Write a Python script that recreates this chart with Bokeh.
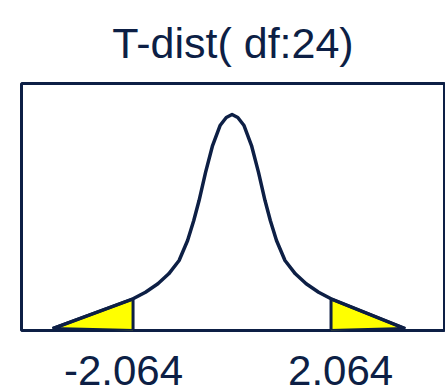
from bokeh.plotting import figure
from bokeh.models import Range1d, FixedTicker
from bokeh.embed import file_html
from bokeh.resources import INLINE

# Curve points (t value, density)
curve_x = [-3.74, -2.064, -1.805, -1.546, -1.32, -1.104, -0.927, -0.798, -0.6875, -0.552, -0.406, -0.25, -0.12, 0.0,
           0.12, 0.25, 0.406, 0.552, 0.6875, 0.798, 0.927, 1.104, 1.32, 1.546, 1.805, 2.064, 3.61]
curve_y = [0.0036, 0.0577, 0.0698, 0.0851, 0.1033, 0.1275, 0.164, 0.2004, 0.2368, 0.288, 0.337, 0.3734, 0.388, 0.3934,
           0.388, 0.3734, 0.337, 0.288, 0.2368, 0.2004, 0.164, 0.1275, 0.1033, 0.0851, 0.0698, 0.0577, 0.0036]

crit = 2.064
crit_density = 0.0577
left_tail_x = [-3.74, -crit, -crit]
left_tail_y = [0.0036, crit_density, 0.0]
right_tail_x = [crit, crit, 3.61]
right_tail_y = [0.0, crit_density, 0.0036]

tick_labels = ["-2.064", "2.064"]
label_shift = 0.2  # labels sit slightly outside the critical lines

NAVY = "#0d1f45"
FONT = "Liberation Sans"

p = figure(width=445, height=392, output_backend="svg", toolbar_location=None,
           x_range=Range1d(-4.39, 4.43), y_range=Range1d(0, 0.45),
           y_axis_location=None, title="T-dist( df:24)",
           min_border_left=21, min_border_right=1, min_border_bottom=62)
p.title.align = "center"
p.title.text_font = FONT
p.title.text_font_size = "43px"
p.title.text_font_style = "normal"
p.title.text_color = NAVY
p.title.standoff = 33
p.outline_line_color = NAVY
p.outline_line_width = 3
p.xgrid.visible = False
p.ygrid.visible = False
p.background_fill_color = "white"
p.border_fill_color = "white"

p.patch(left_tail_x, left_tail_y, fill_color="#ffff00", line_color=NAVY, line_width=3)
p.patch(right_tail_x, right_tail_y, fill_color="#ffff00", line_color=NAVY, line_width=3)
p.line(curve_x, curve_y, line_color=NAVY, line_width=3.5, line_join="round")

tick_pos = [-(crit + label_shift), crit + label_shift]
ax = p.xaxis[0]
ax.ticker = FixedTicker(ticks=tick_pos)
ax.major_label_overrides = {tick_pos[0]: tick_labels[0], tick_pos[1]: tick_labels[1]}
ax.major_label_text_font = FONT
ax.major_label_text_font_size = "42px"
ax.major_label_text_color = NAVY
ax.axis_line_color = None
ax.major_tick_line_color = None
ax.minor_tick_line_color = None
ax.major_tick_out = 0
ax.major_tick_in = 0
ax.major_label_standoff = 25

open("out.html", "w").write(file_html(p, INLINE))
